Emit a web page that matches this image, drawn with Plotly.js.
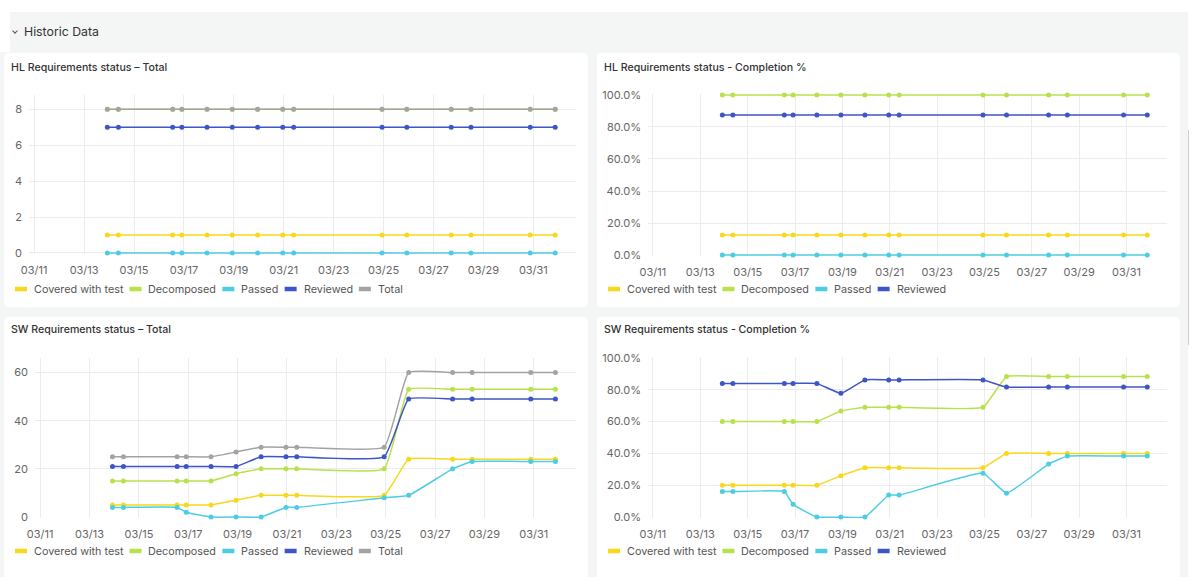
<!DOCTYPE html>
<html>
<head>
<meta charset="utf-8">
<script src="https://cdn.plot.ly/plotly-3.0.1.min.js"></script>
<style>
  html, body { margin: 0; padding: 0; background: #ffffff; width: 1200px; height: 577px; overflow: hidden;
    font-family: Inter, "Noto Sans", Roboto, sans-serif; }
  #frame { position: absolute; left: 0; top: 52px; width: 1188px; height: 540px; background: #f4f5f5; }
  #header { position: absolute; left: 10px; top: 12px; width: 1178px; height: 40px; background: #f4f5f5; }
  #header .chev { position: absolute; left: 3px; top: 17px; width: 3px; height: 3px;
    border-right: 1.2px solid #555; border-bottom: 1.2px solid #555; transform: rotate(45deg); }
  #header .label { position: absolute; left: 14px; top: 0; line-height: 40px; font-size: 12.3px; color: #333; }
  .card { position: absolute; background: #ffffff; border-radius: 4px; overflow: hidden; }
  #scrollbar { position: absolute; left: 1188px; top: 130px; width: 1px; height: 215px; background: #cfcfcf; }
</style>
</head>
<body>
<div id="frame"></div>
<div id="header"><div class="chev"></div><div class="label">Historic Data</div></div>
<div class="card" id="hlTotal" style="left:4px; top:53px; width:584px; height:254px;"></div>
<div class="card" id="hlPct" style="left:597px; top:53px; width:583px; height:254px;"></div>
<div class="card" id="swTotal" style="left:4px; top:317px; width:584px; height:262px;"></div>
<div class="card" id="swPct" style="left:597px; top:317px; width:583px; height:262px;"></div>
<div id="scrollbar"></div>
<script>
// Snapshot timestamps shared by every status series
const snapshotTimes = [
  '2025-03-13 22:20', '2025-03-14 09:00', '2025-03-16 13:10', '2025-03-16 22:00',
  '2025-03-17 22:10', '2025-03-18 22:30', '2025-03-19 22:50', '2025-03-20 23:00',
  '2025-03-21 09:30', '2025-03-24 22:30', '2025-03-25 22:20', '2025-03-27 17:00',
  '2025-03-28 12:00', '2025-03-30 21:00', '2025-03-31 21:00'
];

// HL requirements: counts
const hlCovered    = [1, 1, 1, 1, 1, 1, 1, 1, 1, 1, 1, 1, 1, 1, 1];
const hlDecomposed = [8, 8, 8, 8, 8, 8, 8, 8, 8, 8, 8, 8, 8, 8, 8];
const hlPassed     = [0, 0, 0, 0, 0, 0, 0, 0, 0, 0, 0, 0, 0, 0, 0];
const hlReviewed   = [7, 7, 7, 7, 7, 7, 7, 7, 7, 7, 7, 7, 7, 7, 7];
const hlTotal      = [8, 8, 8, 8, 8, 8, 8, 8, 8, 8, 8, 8, 8, 8, 8];

// HL requirements: completion %
const hlCoveredPct    = [12.5, 12.5, 12.5, 12.5, 12.5, 12.5, 12.5, 12.5, 12.5, 12.5, 12.5, 12.5, 12.5, 12.5, 12.5];
const hlDecomposedPct = [100, 100, 100, 100, 100, 100, 100, 100, 100, 100, 100, 100, 100, 100, 100];
const hlPassedPct     = [0, 0, 0, 0, 0, 0, 0, 0, 0, 0, 0, 0, 0, 0, 0];
const hlReviewedPct   = [87.5, 87.5, 87.5, 87.5, 87.5, 87.5, 87.5, 87.5, 87.5, 87.5, 87.5, 87.5, 87.5, 87.5, 87.5];

// SW requirements: counts
const swCovered    = [5, 5, 5, 5, 5, 7, 9, 9, 9, 9, 24, 24, 24, 24, 24];
const swDecomposed = [15, 15, 15, 15, 15, 18, 20, 20, 20, 20, 53, 53, 53, 53, 53];
const swPassed     = [4, 4, 4, 2, 0, 0, 0, 4, 4, 8, 9, 20, 23, 23, 23];
const swReviewed   = [21, 21, 21, 21, 21, 21, 25, 25, 25, 25, 49, 49, 49, 49, 49];
const swTotal      = [25, 25, 25, 25, 25, 27, 29, 29, 29, 29, 60, 60, 60, 60, 60];

// SW requirements: completion %
const swCoveredPct    = [20, 20, 20, 20, 20, 25.9, 31.0, 31.0, 31.0, 31.0, 40, 40, 40, 40, 40];
const swDecomposedPct = [60, 60, 60, 60, 60, 66.7, 69.0, 69.0, 69.0, 69.0, 88.3, 88.3, 88.3, 88.3, 88.3];
const swPassedPct     = [16, 16, 16, 8, 0, 0, 0, 13.8, 13.8, 27.6, 15, 33.3, 38.3, 38.3, 38.3];
const swReviewedPct   = [84, 84, 84, 84, 84, 77.8, 86.2, 86.2, 86.2, 86.2, 81.7, 81.7, 81.7, 81.7, 81.7];

const xTicks = ['03/11', '03/13', '03/15', '03/17', '03/19', '03/21', '03/23', '03/25', '03/27', '03/29', '03/31'];

// Styling
const palette = {
  'Covered with test': '#f8d81c',
  'Decomposed': '#b7e24c',
  'Passed': '#4ccde3',
  'Reviewed': '#3d55c6',
  'Total': '#a3a3a3'
};
const FONT = 'Inter, "Noto Sans", Roboto, sans-serif';
const LEGEND_FONT_SIZE = 10.8;
const tickValsFromLabels = xTicks.map(l => '2025-' + l.replace('/', '-'));

function seriesTraces(valuesByName) {
  return Object.keys(valuesByName).map(name => ({
    type: 'scatter', mode: 'lines+markers', name: name,
    x: snapshotTimes, y: valuesByName[name],
    line: { color: palette[name], width: 1.5, shape: 'spline', smoothing: 0.35 },
    marker: { color: palette[name], size: 5 },
    cliponaxis: false, showlegend: false, hoverinfo: 'x+y+name'
  }));
}

// Compact legend row under the plot: short colour bar + series name
function legendRow(names, W, H, margin, rowY) {
  const plotW = W - margin.l - margin.r, plotH = H - margin.t - margin.b;
  const ctx = document.createElement('canvas').getContext('2d');
  ctx.font = LEGEND_FONT_SIZE + 'px Inter';
  const yP = (H - margin.b - rowY) / plotH;
  const px = v => (v - margin.l) / plotW;
  const shapes = [], annotations = [];
  let x = 11;
  names.forEach(name => {
    shapes.push({
      type: 'line', xref: 'paper', yref: 'paper', x0: px(x), x1: px(x + 12), y0: yP, y1: yP,
      line: { color: palette[name], width: 4.5 }
    });
    const tx = x + 19;
    annotations.push({
      xref: 'paper', yref: 'paper', x: px(tx), y: yP, xanchor: 'left', yanchor: 'middle',
      text: name, showarrow: false, borderpad: 0, borderwidth: 0,
      font: { family: FONT, size: LEGEND_FONT_SIZE, color: '#555' }
    });
    x = tx + ctx.measureText(name).width + 6;
  });
  return { shapes, annotations };
}

function drawCard(id, title, titleY, valuesByName, yAxis, margin, legendY) {
  const el = document.getElementById(id);
  const W = el.clientWidth, H = el.clientHeight;
  const legend = legendRow(Object.keys(valuesByName), W, H, margin, legendY);
  const layout = {
    width: W, height: H,
    paper_bgcolor: 'rgba(0,0,0,0)', plot_bgcolor: 'rgba(0,0,0,0)',
    margin: margin,
    font: { family: FONT, size: 11, color: '#666' },
    title: {
      text: title, xref: 'container', yref: 'container',
      x: 7 / W, xanchor: 'left', y: 1 - titleY / H, yanchor: 'middle',
      font: { family: FONT, size: 10.6, color: '#333', weight: 500 }
    },
    xaxis: {
      type: 'date', range: ['2025-03-10 19:00', '2025-04-01 17:00'],
      tickmode: 'array', tickvals: tickValsFromLabels, ticktext: xTicks,
      showgrid: true, gridcolor: '#ececec', gridwidth: 1, zeroline: false,
      showline: false, ticks: '', ticklabelstandoff: 8,
      tickfont: { family: FONT, size: 11, color: '#666' }, fixedrange: true
    },
    yaxis: Object.assign({
      showgrid: true, gridcolor: '#ececec', gridwidth: 1, zeroline: false,
      showline: false, ticks: '', ticklabelstandoff: 6,
      tickfont: { family: FONT, size: 11, color: '#666' }, fixedrange: true
    }, yAxis),
    showlegend: false,
    shapes: legend.shapes,
    annotations: legend.annotations
  };
  Plotly.newPlot(el, seriesTraces(valuesByName), layout, { displayModeBar: false, responsive: false });
}

drawCard('hlTotal', 'HL Requirements status – Total', 14,
  { 'Covered with test': hlCovered, 'Decomposed': hlDecomposed, 'Passed': hlPassed, 'Reviewed': hlReviewed, 'Total': hlTotal },
  { range: [-0.06, 8.8], tickmode: 'linear', tick0: 0, dtick: 2 },
  { l: 25, r: 12, t: 42, b: 53 }, 236);

drawCard('hlPct', 'HL Requirements status - Completion %', 14,
  { 'Covered with test': hlCoveredPct, 'Decomposed': hlDecomposedPct, 'Passed': hlPassedPct, 'Reviewed': hlReviewedPct },
  { range: [-0.6, 100.6], tickmode: 'linear', tick0: 0, dtick: 20, tickformat: '.1f', ticksuffix: '%' },
  { l: 51, r: 13, t: 41, b: 51 }, 236);

drawCard('swTotal', 'SW Requirements status – Total', 12.3,
  { 'Covered with test': swCovered, 'Decomposed': swDecomposed, 'Passed': swPassed, 'Reviewed': swReviewed, 'Total': swTotal },
  { range: [-0.4, 66], tickmode: 'linear', tick0: 0, dtick: 20 },
  { l: 31, r: 12, t: 41, b: 61 }, 234);

drawCard('swPct', 'SW Requirements status - Completion %', 12.3,
  { 'Covered with test': swCoveredPct, 'Decomposed': swDecomposedPct, 'Passed': swPassedPct, 'Reviewed': swReviewedPct },
  { range: [-0.6, 100.6], tickmode: 'linear', tick0: 0, dtick: 20, tickformat: '.1f', ticksuffix: '%' },
  { l: 51, r: 13, t: 40, b: 61 }, 234);
</script>
</body>
</html>
